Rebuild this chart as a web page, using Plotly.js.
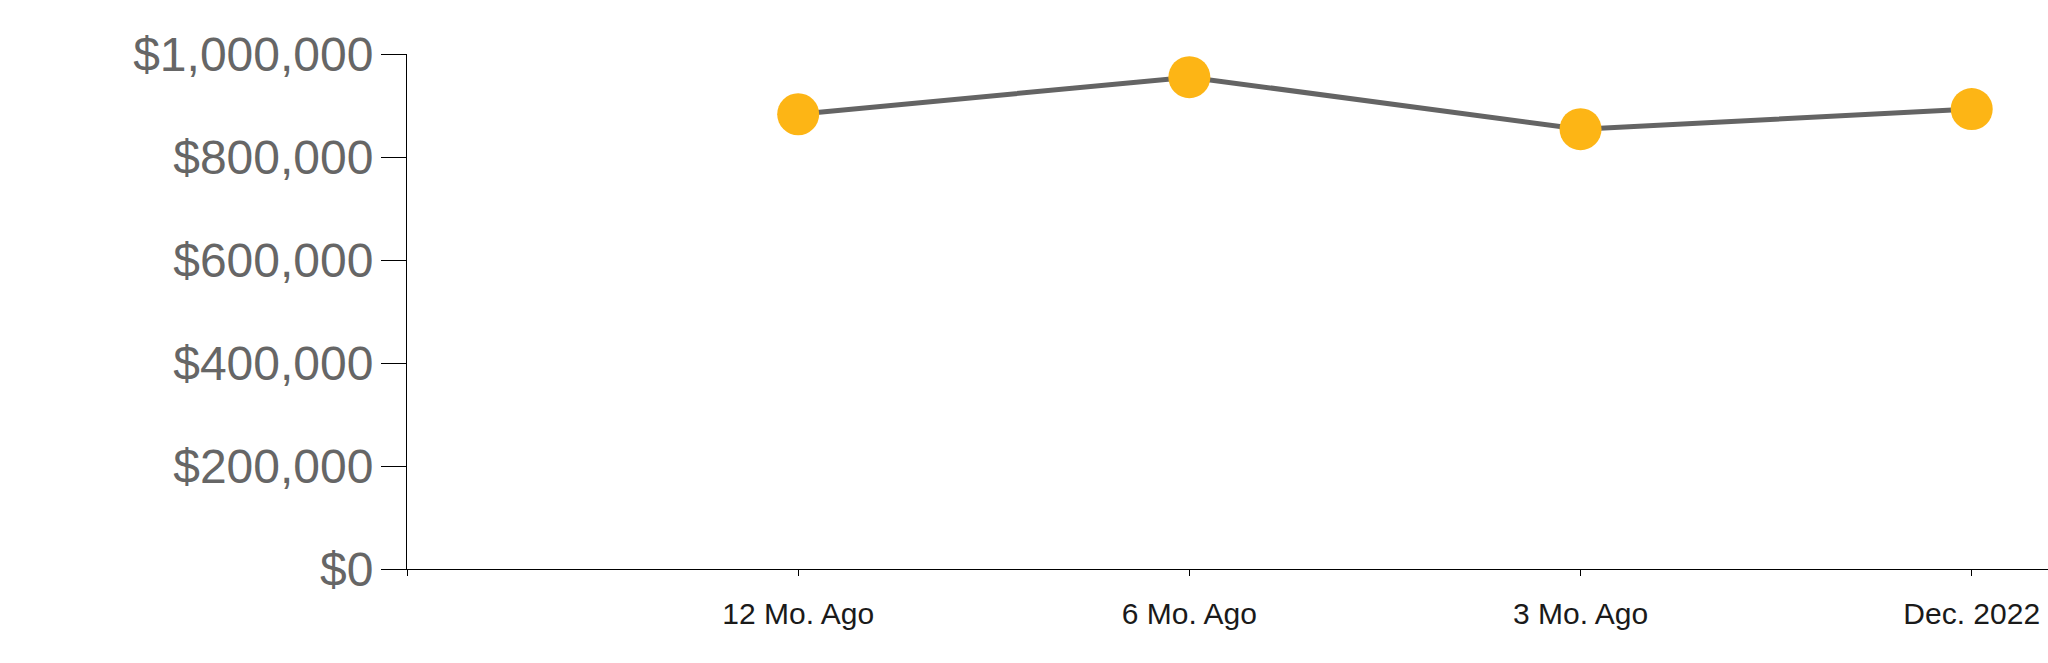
<!DOCTYPE html>
<html>
<head>
<meta charset="utf-8">
<script src="https://cdn.plot.ly/plotly-3.0.1.min.js"></script>
<style>html,body{margin:0;padding:0;background:#fff;}#chart{width:2048px;height:663px;}</style>
</head>
<body>
<div id="chart"></div>
<script>
const categories = ['12 Mo. Ago', '6 Mo. Ago', '3 Mo. Ago', 'Dec. 2022'];
const values = [883000, 955000, 854000, 893000];
const yTickVals = [0, 200000, 400000, 600000, 800000, 1000000];
const axisSlots = [' '].concat(categories);

const trace = {
  x: categories,
  y: values,
  type: 'scatter',
  mode: 'lines+markers',
  line: {color: '#646464', width: 5},
  marker: {color: '#FDB515', size: 42},
  cliponaxis: false,
  hoverinfo: 'skip'
};

const layout = {
  width: 2048,
  height: 663,
  margin: {l: 407, r: 0, t: 54, b: 94, pad: 0},
  paper_bgcolor: '#ffffff',
  plot_bgcolor: '#ffffff',
  showlegend: false,
  font: {family: 'Liberation Sans, Arial, sans-serif'},
  xaxis: {
    type: 'category',
    categoryorder: 'array',
    categoryarray: axisSlots,
    range: [0, 4.195],
    showgrid: false,
    zeroline: false,
    showline: true,
    linecolor: '#000000',
    linewidth: 1,
    ticks: 'outside',
    ticklen: 6,
    tickwidth: 1,
    tickcolor: '#000000',
    ticklabelstandoff: 12,
    tickfont: {size: 30, color: '#1a1a1a'},
    fixedrange: true
  },
  yaxis: {
    range: [0, 1000000],
    tickvals: yTickVals,
    tickformat: '$,.0f',
    showgrid: false,
    zeroline: false,
    showline: true,
    linecolor: '#000000',
    linewidth: 1,
    ticks: 'outside',
    ticklen: 25,
    tickwidth: 1,
    tickcolor: '#000000',
    ticklabelstandoff: -2,
    tickfont: {size: 48, color: '#666666'},
    fixedrange: true
  }
};

Plotly.newPlot('chart', [trace], layout, {displayModeBar: false, staticPlot: true});
</script>
</body>
</html>
